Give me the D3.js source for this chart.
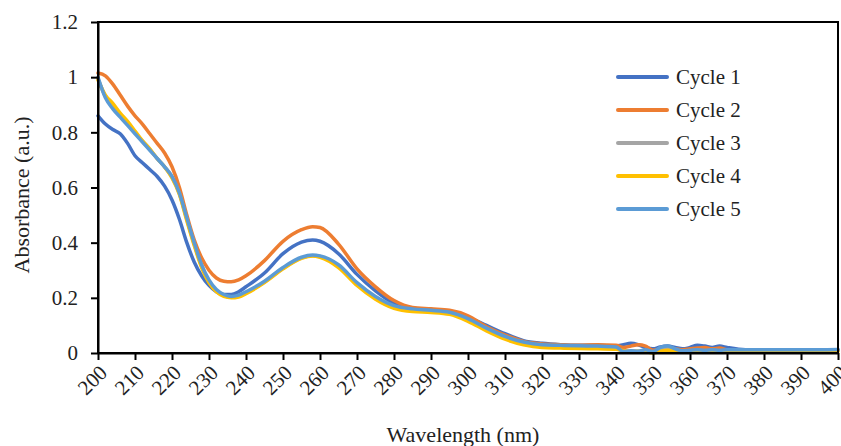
<!DOCTYPE html>
<html>
<head>
<meta charset="utf-8">
<script src="https://cdn.jsdelivr.net/npm/d3@7"></script>
<style>
  html, body { margin: 0; padding: 0; background: #fff; }
  svg { display: block; font-family: "Liberation Serif", "Times New Roman", serif; }
</style>
</head>
<body>
<svg id="chart" width="841" height="446"></svg>
<script>
// Wavelength grid (nm) shared by all spectra
const wavelengths = [200,202,204,206,208,210,212,214,216,218,220,222,224,226,228,230,232,234,236,238,240,
  245,250,255,258,260,265,270,275,280,285,290,295,300,305,310,315,320,325,330,335,340,
  342,344,346,348,350,352,354,356,358,360,362,364,366,368,370,375,380,385,390,395,400];

const cycle1 = [0.86,0.83,0.81,0.795,0.76,0.715,0.69,0.665,0.64,0.605,0.555,0.485,0.40,0.33,0.28,0.245,0.222,0.212,0.212,0.222,0.24,
  0.29,0.36,0.402,0.41,0.405,0.36,0.285,0.225,0.18,0.16,0.155,0.15,0.13,0.10,0.07,0.045,0.035,0.03,0.028,0.028,0.025,
  0.03,0.035,0.03,0.02,0.015,0.022,0.025,0.02,0.015,0.02,0.028,0.025,0.02,0.025,0.02,0.012,0.012,0.012,0.012,0.012,0.012];

const cycle2 = [1.015,1.005,0.975,0.935,0.895,0.86,0.83,0.795,0.76,0.725,0.675,0.60,0.50,0.41,0.345,0.30,0.272,0.26,0.258,0.265,0.28,
  0.335,0.405,0.447,0.458,0.455,0.395,0.305,0.24,0.19,0.165,0.16,0.155,0.135,0.095,0.065,0.042,0.033,0.03,0.028,0.03,0.028,
  0.02,0.025,0.03,0.025,0.01,0.015,0.02,0.015,0.012,0.015,0.018,0.02,0.015,0.018,0.012,0.01,0.01,0.01,0.008,0.01,0.01];

const cycle3 = [0.995,0.93,0.895,0.862,0.832,0.8,0.768,0.738,0.705,0.675,0.638,0.578,0.485,0.395,0.315,0.26,0.226,0.208,0.202,0.206,0.218,
  0.258,0.307,0.345,0.353,0.35,0.315,0.25,0.2,0.167,0.155,0.151,0.144,0.12,0.085,0.055,0.035,0.025,0.023,0.021,0.02,0.018,
  0.006,0.006,0.006,0.008,0.003,0.012,0.018,0.01,0.005,0.007,0.009,0.008,0.009,0.008,0.008,0.008,0.008,0.008,0.008,0.008,0.009];

const cycle4 = [0.99,0.935,0.905,0.87,0.84,0.805,0.77,0.74,0.705,0.675,0.635,0.575,0.48,0.39,0.31,0.255,0.222,0.205,0.2,0.203,0.215,
  0.255,0.305,0.343,0.352,0.347,0.31,0.245,0.195,0.162,0.15,0.147,0.14,0.115,0.08,0.05,0.03,0.02,0.018,0.016,0.015,0.014,
  0.008,0.005,0.006,0.004,0.0,0.006,0.01,0.006,0.003,0.004,0.006,0.005,0.006,0.005,0.004,0.005,0.005,0.005,0.005,0.005,0.005];

const cycle5 = [1.0,0.925,0.885,0.855,0.825,0.795,0.765,0.735,0.705,0.675,0.64,0.58,0.49,0.40,0.32,0.265,0.23,0.212,0.205,0.21,0.222,
  0.26,0.31,0.347,0.355,0.352,0.32,0.255,0.205,0.172,0.16,0.155,0.148,0.125,0.09,0.06,0.04,0.03,0.028,0.026,0.025,0.022,
  0.005,0.008,0.006,0.012,0.005,0.02,0.025,0.015,0.008,0.01,0.012,0.01,0.012,0.01,0.012,0.012,0.012,0.012,0.012,0.012,0.013];

const seriesNames = ["Cycle 1","Cycle 2","Cycle 3","Cycle 4","Cycle 5"];
const seriesValues = [cycle1, cycle2, cycle3, cycle4, cycle5];
const seriesColors = ["#4472C4","#ED7D31","#A5A5A5","#FFC000","#5B9BD5"];

const xTicks = [200,210,220,230,240,250,260,270,280,290,300,310,320,330,340,350,360,370,380,390,400];
const xTickLabels = xTicks.map(String);
const yTicks = [0,0.2,0.4,0.6,0.8,1,1.2];
const yTickLabels = ["0","0.2","0.4","0.6","0.8","1","1.2"];

const xTitle = "Wavelength (nm)";
const yTitle = "Absorbance (a.u.)";

// Layout
const W = 841, H = 446;
const margin = { top: 22, right: 3, bottom: 93, left: 98 };
const innerW = W - margin.left - margin.right;
const innerH = H - margin.top - margin.bottom;

const svg = d3.select("#chart");
const g = svg.append("g").attr("transform", `translate(${margin.left},${margin.top})`);

const x = d3.scaleLinear().domain([200, 400]).range([0, innerW]);
const y = d3.scaleLinear().domain([0, 1.2]).range([innerH, 0]);

// Spectra, drawn in series order so later cycles sit on top
const line = d3.line()
  .x(d => x(d[0]))
  .y(d => y(d[1]))
  .curve(d3.curveMonotoneX);

const plot = g.append("g");
seriesValues.forEach((vals, i) => {
  plot.append("path")
    .datum(wavelengths.map((w, j) => [w, vals[j]]))
    .attr("fill", "none")
    .attr("stroke", seriesColors[i])
    .attr("stroke-width", 3.5)
    .attr("stroke-linejoin", "round")
    .attr("stroke-linecap", "round")
    .attr("d", line);
});

// Plot-area frame
g.append("rect")
  .attr("x", 0).attr("y", 0)
  .attr("width", innerW).attr("height", innerH)
  .attr("fill", "none").attr("stroke", "#000").attr("stroke-width", 2);

// Axes
const fontSize = 21;

const yAxis = g.append("g")
  .call(d3.axisLeft(y).tickValues(yTicks).tickFormat((d, i) => yTickLabels[i]).tickSize(7).tickSizeOuter(0));
yAxis.select(".domain").attr("stroke", "#000").attr("stroke-width", 2);
yAxis.selectAll(".tick line").attr("stroke", "#000").attr("stroke-width", 2);
yAxis.selectAll(".tick text")
  .attr("x", -20)
  .attr("font-size", fontSize)
  .attr("font-family", "Liberation Serif, Times New Roman, serif")
  .attr("fill", "#222");

const xAxis = g.append("g")
  .attr("transform", `translate(0,${innerH})`)
  .call(d3.axisBottom(x).tickValues(xTicks).tickFormat((d, i) => xTickLabels[i]).tickSize(7).tickSizeOuter(0));
xAxis.select(".domain").attr("stroke", "#000").attr("stroke-width", 2);
xAxis.selectAll(".tick line").attr("stroke", "#000").attr("stroke-width", 2);
xAxis.selectAll(".tick text")
  .attr("font-size", fontSize)
  .attr("font-family", "Liberation Serif, Times New Roman, serif")
  .attr("fill", "#222")
  .attr("text-anchor", "end")
  .attr("x", 0).attr("y", 0).attr("dy", null)
  .attr("transform", "translate(10,21) rotate(-45)");

// Axis titles
svg.append("text")
  .attr("x", 463).attr("y", 442)
  .attr("text-anchor", "middle")
  .attr("font-size", 22)
  .attr("fill", "#222")
  .text(xTitle);

svg.append("text")
  .attr("transform", `translate(29,195) rotate(-90)`)
  .attr("text-anchor", "middle")
  .attr("font-size", 22)
  .attr("fill", "#222")
  .text(yTitle);

// Legend
const legend = svg.append("g").attr("transform", "translate(618,77)");
seriesNames.forEach((name, i) => {
  const row = legend.append("g").attr("transform", `translate(0,${i * 33})`);
  row.append("line")
    .attr("x1", 0).attr("x2", 49).attr("y1", 0).attr("y2", 0)
    .attr("stroke", seriesColors[i]).attr("stroke-width", 4).attr("stroke-linecap", "round");
  row.append("text")
    .attr("x", 58).attr("y", 0).attr("dy", "0.35em")
    .attr("font-size", 21)
    .attr("fill", "#222")
    .text(name);
});
</script>
</body>
</html>
